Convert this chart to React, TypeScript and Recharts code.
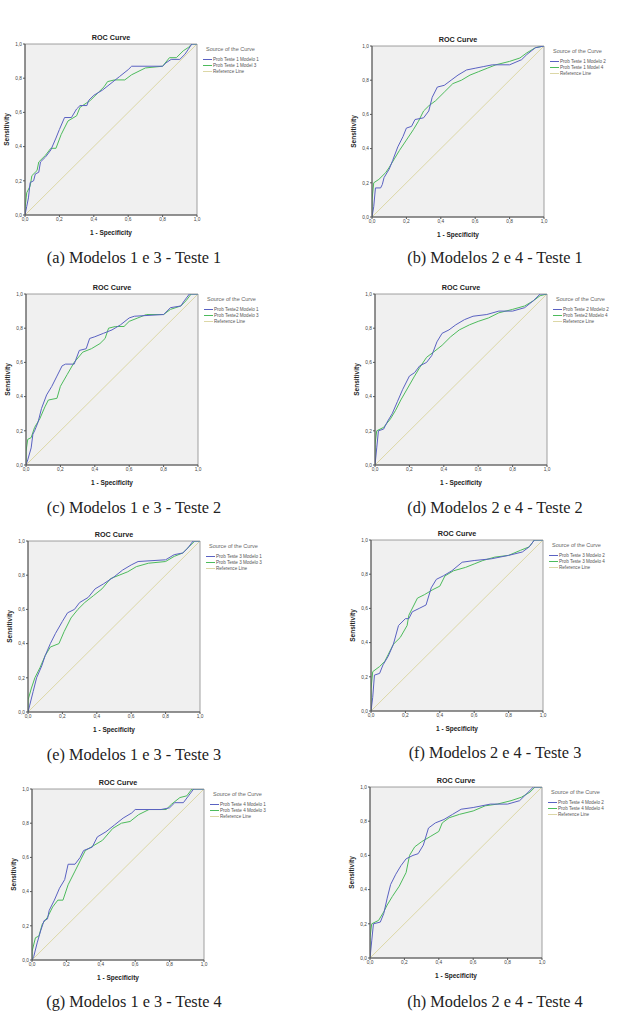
import React from 'react';
import { LineChart, Line, XAxis, YAxis, CartesianGrid, ReferenceArea } from 'recharts';

type Pt = [number, number];

const ticks = [0, 0.2, 0.4, 0.6, 0.8, 1];
const referencePoints: Pt[] = [[0, 0], [1, 1]];

// (a) Teste 1 - Modelos 1 e 3
const aModelo1: Pt[] = [[0, 0], [0.01, 0.05], [0.02, 0.1], [0.03, 0.19], [0.05, 0.2], [0.06, 0.24], [0.08, 0.25], [0.09, 0.31], [0.12, 0.34], [0.15, 0.38], [0.18, 0.45], [0.2, 0.5], [0.23, 0.57], [0.27, 0.57], [0.3, 0.62], [0.32, 0.64], [0.36, 0.64], [0.37, 0.67], [0.4, 0.7], [0.45, 0.73], [0.5, 0.77], [0.55, 0.81], [0.6, 0.85], [0.62, 0.87], [0.8, 0.87], [0.82, 0.89], [0.85, 0.91], [0.9, 0.91], [0.93, 0.94], [0.95, 0.97], [0.97, 1], [1, 1]];
const aModelo3: Pt[] = [[0, 0], [0, 0.04], [0.01, 0.13], [0.03, 0.17], [0.04, 0.23], [0.07, 0.26], [0.08, 0.31], [0.12, 0.35], [0.15, 0.39], [0.18, 0.39], [0.21, 0.47], [0.25, 0.55], [0.3, 0.58], [0.32, 0.63], [0.38, 0.67], [0.42, 0.71], [0.46, 0.75], [0.48, 0.78], [0.52, 0.79], [0.58, 0.79], [0.62, 0.82], [0.68, 0.85], [0.7, 0.86], [0.8, 0.87], [0.84, 0.92], [0.88, 0.92], [0.92, 0.96], [0.95, 0.98], [0.97, 1], [1, 1]];

// (b) Teste 1 - Modelos 2 e 4
const bModelo2: Pt[] = [[0, 0], [0.01, 0.06], [0.02, 0.17], [0.05, 0.17], [0.06, 0.19], [0.07, 0.23], [0.1, 0.28], [0.12, 0.33], [0.15, 0.41], [0.18, 0.47], [0.2, 0.52], [0.23, 0.53], [0.25, 0.57], [0.3, 0.58], [0.33, 0.62], [0.35, 0.7], [0.38, 0.76], [0.42, 0.77], [0.46, 0.8], [0.5, 0.83], [0.55, 0.86], [0.6, 0.87], [0.65, 0.88], [0.7, 0.89], [0.8, 0.89], [0.87, 0.92], [0.9, 0.95], [0.95, 0.99], [1, 1]];
const bModelo4: Pt[] = [[0, 0], [0, 0.1], [0.01, 0.2], [0.04, 0.22], [0.08, 0.26], [0.1, 0.29], [0.13, 0.34], [0.16, 0.39], [0.2, 0.45], [0.24, 0.51], [0.27, 0.56], [0.3, 0.62], [0.33, 0.65], [0.37, 0.68], [0.42, 0.73], [0.47, 0.78], [0.52, 0.8], [0.57, 0.83], [0.62, 0.85], [0.67, 0.87], [0.72, 0.89], [0.8, 0.91], [0.86, 0.93], [0.9, 0.96], [0.95, 0.99], [1, 1]];

// (c) Teste 2 - Modelos 1 e 3
const cModelo1: Pt[] = [[0, 0], [0.01, 0.03], [0.03, 0.1], [0.04, 0.18], [0.05, 0.2], [0.07, 0.25], [0.09, 0.33], [0.12, 0.41], [0.15, 0.46], [0.18, 0.52], [0.21, 0.58], [0.23, 0.59], [0.28, 0.59], [0.31, 0.67], [0.35, 0.68], [0.37, 0.74], [0.4, 0.75], [0.45, 0.77], [0.5, 0.79], [0.55, 0.82], [0.6, 0.86], [0.63, 0.87], [0.8, 0.88], [0.84, 0.92], [0.9, 0.93], [0.92, 0.96], [0.95, 1], [1, 1]];
const cModelo3: Pt[] = [[0, 0], [0, 0.08], [0.01, 0.15], [0.03, 0.16], [0.05, 0.22], [0.08, 0.27], [0.11, 0.34], [0.13, 0.38], [0.18, 0.39], [0.2, 0.46], [0.24, 0.53], [0.28, 0.6], [0.33, 0.66], [0.38, 0.68], [0.43, 0.71], [0.46, 0.74], [0.48, 0.8], [0.52, 0.81], [0.57, 0.81], [0.6, 0.84], [0.65, 0.86], [0.7, 0.88], [0.8, 0.88], [0.84, 0.91], [0.9, 0.93], [0.93, 0.96], [0.96, 1], [1, 1]];

// (d) Teste 2 - Modelos 2 e 4
const dModelo2: Pt[] = [[0, 0], [0.01, 0.1], [0.02, 0.2], [0.05, 0.21], [0.07, 0.25], [0.1, 0.3], [0.13, 0.37], [0.16, 0.44], [0.2, 0.52], [0.23, 0.54], [0.26, 0.58], [0.3, 0.6], [0.33, 0.64], [0.36, 0.72], [0.39, 0.77], [0.43, 0.79], [0.47, 0.82], [0.52, 0.85], [0.57, 0.87], [0.65, 0.88], [0.72, 0.9], [0.8, 0.9], [0.87, 0.92], [0.92, 0.96], [0.96, 1], [1, 1]];
const dModelo4: Pt[] = [[0, 0], [0, 0.12], [0.01, 0.2], [0.05, 0.22], [0.09, 0.27], [0.12, 0.32], [0.15, 0.38], [0.19, 0.45], [0.23, 0.52], [0.26, 0.57], [0.3, 0.63], [0.34, 0.66], [0.39, 0.7], [0.44, 0.75], [0.49, 0.79], [0.55, 0.82], [0.6, 0.84], [0.66, 0.86], [0.72, 0.89], [0.8, 0.91], [0.87, 0.93], [0.92, 0.96], [0.96, 0.99], [1, 1]];

// (e) Teste 3 - Modelos 1 e 3
const eModelo1: Pt[] = [[0, 0], [0.01, 0.04], [0.03, 0.12], [0.05, 0.2], [0.08, 0.27], [0.1, 0.33], [0.13, 0.4], [0.16, 0.46], [0.2, 0.53], [0.23, 0.58], [0.27, 0.6], [0.3, 0.64], [0.35, 0.67], [0.39, 0.72], [0.44, 0.75], [0.5, 0.79], [0.55, 0.83], [0.6, 0.86], [0.64, 0.88], [0.8, 0.89], [0.85, 0.92], [0.9, 0.93], [0.93, 0.96], [0.96, 1], [1, 1]];
const eModelo3: Pt[] = [[0, 0], [0, 0.07], [0.02, 0.14], [0.04, 0.2], [0.07, 0.26], [0.1, 0.33], [0.13, 0.38], [0.18, 0.4], [0.21, 0.47], [0.25, 0.55], [0.29, 0.6], [0.33, 0.64], [0.38, 0.68], [0.43, 0.72], [0.48, 0.78], [0.53, 0.8], [0.58, 0.82], [0.63, 0.85], [0.7, 0.87], [0.8, 0.88], [0.85, 0.91], [0.9, 0.93], [0.94, 0.97], [0.97, 1], [1, 1]];

// (f) Teste 3 - Modelos 2 e 4
const fModelo2: Pt[] = [[0, 0], [0.01, 0.08], [0.02, 0.21], [0.05, 0.22], [0.07, 0.27], [0.1, 0.32], [0.13, 0.39], [0.16, 0.5], [0.2, 0.54], [0.22, 0.54], [0.24, 0.58], [0.28, 0.6], [0.32, 0.62], [0.35, 0.72], [0.38, 0.77], [0.42, 0.79], [0.47, 0.82], [0.53, 0.87], [0.6, 0.88], [0.7, 0.89], [0.8, 0.91], [0.88, 0.93], [0.92, 0.96], [0.95, 1], [1, 1]];
const fModelo4: Pt[] = [[0, 0], [0, 0.13], [0.01, 0.23], [0.05, 0.26], [0.08, 0.29], [0.1, 0.33], [0.13, 0.39], [0.17, 0.43], [0.21, 0.5], [0.22, 0.56], [0.27, 0.66], [0.31, 0.68], [0.36, 0.71], [0.4, 0.73], [0.43, 0.79], [0.48, 0.82], [0.55, 0.84], [0.6, 0.86], [0.65, 0.88], [0.72, 0.9], [0.8, 0.91], [0.87, 0.94], [0.92, 0.96], [0.95, 1], [1, 1]];

// (g) Teste 4 - Modelos 1 e 3
const gModelo1: Pt[] = [[0, 0], [0.01, 0.02], [0.03, 0.1], [0.05, 0.17], [0.07, 0.23], [0.09, 0.24], [0.1, 0.29], [0.13, 0.35], [0.16, 0.42], [0.19, 0.47], [0.21, 0.56], [0.25, 0.56], [0.28, 0.6], [0.3, 0.64], [0.35, 0.66], [0.38, 0.72], [0.43, 0.75], [0.48, 0.79], [0.53, 0.83], [0.58, 0.86], [0.6, 0.88], [0.75, 0.88], [0.8, 0.89], [0.83, 0.92], [0.88, 0.92], [0.91, 0.96], [0.94, 1], [1, 1]];
const gModelo3: Pt[] = [[0, 0], [0, 0.05], [0.02, 0.13], [0.04, 0.14], [0.06, 0.21], [0.09, 0.25], [0.12, 0.31], [0.15, 0.35], [0.18, 0.35], [0.21, 0.44], [0.25, 0.52], [0.28, 0.58], [0.31, 0.64], [0.36, 0.67], [0.41, 0.7], [0.47, 0.77], [0.52, 0.8], [0.57, 0.81], [0.62, 0.85], [0.68, 0.88], [0.78, 0.88], [0.81, 0.91], [0.86, 0.95], [0.9, 0.96], [0.93, 1], [1, 1]];

// (h) Teste 4 - Modelos 2 e 4
const hModelo2: Pt[] = [[0, 0], [0.01, 0.1], [0.02, 0.2], [0.06, 0.21], [0.08, 0.26], [0.1, 0.35], [0.12, 0.43], [0.15, 0.49], [0.18, 0.54], [0.21, 0.58], [0.25, 0.6], [0.28, 0.61], [0.31, 0.66], [0.34, 0.76], [0.38, 0.79], [0.43, 0.81], [0.48, 0.84], [0.53, 0.87], [0.6, 0.88], [0.7, 0.9], [0.8, 0.9], [0.87, 0.92], [0.9, 0.95], [0.95, 1], [1, 1]];
const hModelo4: Pt[] = [[0, 0], [0, 0.12], [0.01, 0.2], [0.05, 0.22], [0.08, 0.27], [0.1, 0.31], [0.13, 0.36], [0.17, 0.42], [0.21, 0.5], [0.23, 0.6], [0.26, 0.65], [0.3, 0.68], [0.35, 0.71], [0.4, 0.74], [0.42, 0.79], [0.46, 0.82], [0.52, 0.84], [0.6, 0.86], [0.67, 0.89], [0.74, 0.9], [0.82, 0.92], [0.88, 0.94], [0.93, 0.97], [0.96, 1], [1, 1]];

const captions = [
  '(a) Modelos 1 e 3 - Teste 1',
  '(b) Modelos 2 e 4 - Teste 1',
  '(c) Modelos 1 e 3 - Teste 2',
  '(d) Modelos 2 e 4 - Teste 2',
  '(e) Modelos 1 e 3 - Teste 3',
  '(f) Modelos 2 e 4 - Teste 3',
  '(g) Modelos 1 e 3 - Teste 4',
  '(h) Modelos 2 e 4 - Teste 4',
];

const legendNames: [string, string][] = [
  ['Prob Teste 1 Modelo 1', 'Prob Teste 1 Model 3'],
  ['Prob Teste 1 Modelo 2', 'Prob Teste 1 Model 4'],
  ['Prob Teste2 Modelo 1', 'Prob Teste2 Modelo 3'],
  ['Prob Teste 2 Modelo 2', 'Prob Teste2 Modelo 4'],
  ['Prob Teste 3 Modelo 1', 'Prob Teste 3 Modelo 3'],
  ['Prob Teste 3 Modelo 2', 'Prob Teste 3 Modelo 4'],
  ['Prob Teste 4 Modelo 1', 'Prob Teste 4 Modelo 3'],
  ['Prob Teste 4 Modelo 2', 'Prob Teste 4 Modelo 4'],
];

const seriesPairs: [Pt[], Pt[]][] = [
  [aModelo1, aModelo3],
  [bModelo2, bModelo4],
  [cModelo1, cModelo3],
  [dModelo2, dModelo4],
  [eModelo1, eModelo3],
  [fModelo2, fModelo4],
  [gModelo1, gModelo3],
  [hModelo2, hModelo4],
];

// layout: plot-area top-left corner and caption centre, page pixels
const layout = [
  { px: 25, py: 44, cx: 134, cy: 258 },
  { px: 372, py: 46, cx: 495, cy: 258 },
  { px: 26, py: 294, cx: 134, cy: 508 },
  { px: 375, py: 294, cx: 495, cy: 508 },
  { px: 28, py: 541, cx: 134, cy: 755 },
  { px: 371, py: 540, cx: 495, cy: 753 },
  { px: 32, py: 789, cx: 134, cy: 1002 },
  { px: 370, py: 787, cx: 495, cy: 1002 },
];

const BLUE = '#5a62c2';
const GREEN = '#4dbb5c';
const REF = '#dcd7a6';
const SANS = '"Liberation Sans", Arial, sans-serif';

const PW = 172;
const PH = 171;
const ML = 28;
const MT = 14;

const toRows = (pts: Pt[]) => pts.map(([x, y]) => ({ x, y }));
const fmt = (v: number) => v.toFixed(1).replace('.', ',');

const Legend = ({ names, left, top }: { names: [string, string]; left: number; top: number }) => {
  const items = [
    { name: names[0], color: BLUE },
    { name: names[1], color: GREEN },
    { name: 'Reference Line', color: REF },
  ];
  return (
    <div style={{ position: 'absolute', left, top, fontFamily: SANS, color: '#555', whiteSpace: 'nowrap' }}>
      <div style={{ fontSize: 5.5, marginLeft: 3, lineHeight: '7px', color: '#666' }}>Source of the Curve</div>
      <div style={{ height: 3 }} />
      {items.map(it => (
        <div key={it.name} style={{ display: 'flex', alignItems: 'center', height: 6, fontSize: 4.6 }}>
          <div style={{ width: 9, height: 1, background: it.color, marginRight: 1 }} />
          <span>{it.name}</span>
        </div>
      ))}
    </div>
  );
};

const RocPanel = ({ idx }: { idx: number }) => {
  const { px, py, cx, cy } = layout[idx];
  const [s1, s2] = seriesPairs[idx];
  return (
    <>
      <div style={{ position: 'absolute', left: px, top: py - 11, width: PW, textAlign: 'center', fontFamily: SANS, fontWeight: 'bold', fontSize: 7.2, color: '#222' }}>
        ROC Curve
      </div>
      <div style={{ position: 'absolute', left: px - ML, top: py - MT }}>
        <LineChart width={ML + PW + 4} height={MT + PH + 30} margin={{ top: MT, right: 4, left: 10, bottom: 8 }}>
          <CartesianGrid fill="#f0f0f0" horizontal={false} vertical={false} />
          <XAxis
            dataKey="x"
            type="number"
            domain={[0, 1]}
            ticks={ticks}
            tickFormatter={fmt}
            allowDataOverflow
            height={22}
            tickSize={2}
            tickMargin={1}
            stroke="#555"
            tick={{ fontSize: 4.8, fill: '#444', fontFamily: SANS }}
            label={{ value: '1 - Specificity', position: 'insideBottom', offset: 2, style: { fontSize: 6.5, fontWeight: 'bold', fill: '#222', fontFamily: SANS } }}
          />
          <YAxis
            dataKey="y"
            type="number"
            domain={[0, 1]}
            ticks={ticks}
            tickFormatter={fmt}
            allowDataOverflow
            width={18}
            tickSize={2}
            tickMargin={1}
            stroke="#555"
            tick={{ fontSize: 4.8, fill: '#444', fontFamily: SANS }}
            label={{ value: 'Sensitivity', angle: -90, position: 'insideLeft', offset: 0, style: { textAnchor: 'middle', fontSize: 6.5, fontWeight: 'bold', fill: '#222', fontFamily: SANS } }}
          />
          <Line data={toRows(referencePoints)} dataKey="y" stroke={REF} strokeWidth={1} dot={false} isAnimationActive={false} />
          <Line data={toRows(s2)} dataKey="y" stroke={GREEN} strokeWidth={1} dot={false} isAnimationActive={false} />
          <Line data={toRows(s1)} dataKey="y" stroke={BLUE} strokeWidth={1} dot={false} isAnimationActive={false} />
          <ReferenceArea x1={0} x2={1} y1={0} y2={1} fill="none" stroke="#888" strokeWidth={0.8} />
        </LineChart>
      </div>
      <Legend names={legendNames[idx]} left={px + PW + 6} top={py + 2} />
      <div style={{ position: 'absolute', left: cx - 150, top: cy - 11, width: 300, textAlign: 'center', fontFamily: '"Liberation Serif", "DejaVu Serif", serif', fontSize: 16.3, color: '#222', lineHeight: '22px' }}>
        {captions[idx]}
      </div>
    </>
  );
};

export default function App() {
  return (
    <div style={{ position: 'absolute', left: 0, top: 0, width: 621, height: 1023, background: '#fff', overflow: 'hidden' }}>
      {captions.map((_, i) => (
        <RocPanel key={i} idx={i} />
      ))}
    </div>
  );
}
